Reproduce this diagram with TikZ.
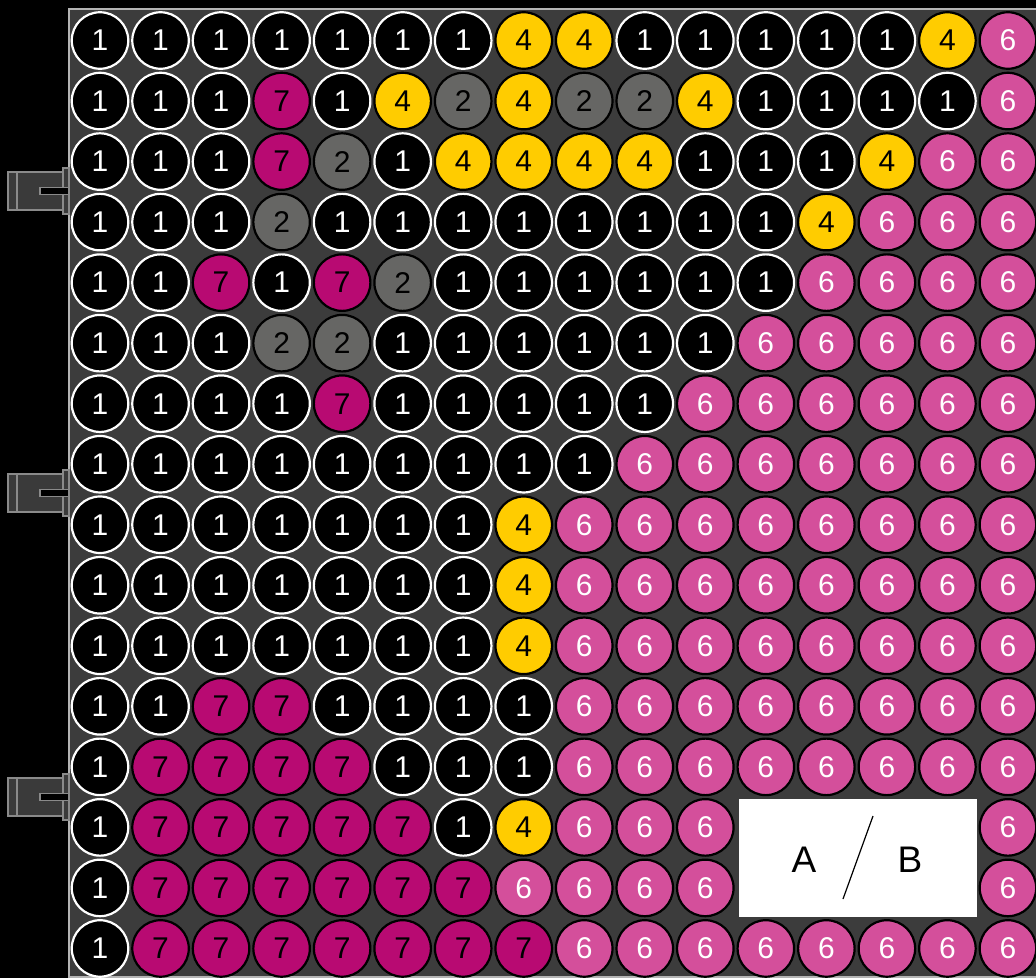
\documentclass[tikz,border=0pt]{standalone}
\usepackage{fontspec}
\setmainfont{Liberation Sans}
\definecolor{boardbg}{HTML}{3C3C3C}
\definecolor{boardedge}{HTML}{B4B4B4}
\definecolor{cyellow}{HTML}{FFCC00}
\definecolor{cpink}{HTML}{D44F9B}
\definecolor{cmag}{HTML}{B80A72}
\definecolor{cgray}{HTML}{666664}
\definecolor{plugfill}{HTML}{3A3A3A}
\definecolor{plugedge}{HTML}{8A8A8A}
\tikzset{
  cell/.style={circle, minimum size=56.5pt, inner sep=0pt, line width=2.2pt,
    font=\fontsize{30}{36}\selectfont},
  v1/.style={fill=black, draw=white, text=white},
  v2/.style={fill=cgray, draw=black, text=black},
  v4/.style={fill=cyellow, draw=black, text=black},
  v6/.style={fill=cpink, draw=black, text=white},
  v7/.style={fill=cmag, draw=black, text=black},
  plugpart/.style={fill=plugfill, draw=plugedge, line width=1.2pt},
  labelAB/.style={font=\fontsize{37}{44}\selectfont, text=black}
}
\begin{document}
\begin{tikzpicture}[x=1pt,y=-1pt]
\useasboundingbox (0,0) rectangle (1036,978);
\fill[black] (0,0) rectangle (1036,978);
\clip (0,0) rectangle (1036,978);
% board
\draw[fill=boardbg, draw=boardedge, line width=2pt] (69,9) rectangle (1050,977);
% connectors on the left edge
\foreach \yc in {191,493,797} {
  \draw[plugpart] (17,\yc-19) rectangle (63,\yc+19);
  \draw[plugpart] (8,\yc-19) rectangle (17,\yc+19);
  \draw[plugpart] (63,\yc-23) rectangle (69,\yc+23);
  \draw[fill=black, draw=plugedge, line width=1.2pt] (40,\yc-3.5) rectangle (69,\yc+3.5);
}
% cells
\foreach \row [count=\r] in {
  {1,1,1,1,1,1,1,4,4,1,1,1,1,1,4,6},
  {1,1,1,7,1,4,2,4,2,2,4,1,1,1,1,6},
  {1,1,1,7,2,1,4,4,4,4,1,1,1,4,6,6},
  {1,1,1,2,1,1,1,1,1,1,1,1,4,6,6,6},
  {1,1,7,1,7,2,1,1,1,1,1,1,6,6,6,6},
  {1,1,1,2,2,1,1,1,1,1,1,6,6,6,6,6},
  {1,1,1,1,7,1,1,1,1,1,6,6,6,6,6,6},
  {1,1,1,1,1,1,1,1,1,6,6,6,6,6,6,6},
  {1,1,1,1,1,1,1,4,6,6,6,6,6,6,6,6},
  {1,1,1,1,1,1,1,4,6,6,6,6,6,6,6,6},
  {1,1,1,1,1,1,1,4,6,6,6,6,6,6,6,6},
  {1,1,7,7,1,1,1,1,6,6,6,6,6,6,6,6},
  {1,7,7,7,7,1,1,1,6,6,6,6,6,6,6,6},
  {1,7,7,7,7,7,1,4,6,6,6,0,0,0,0,6},
  {1,7,7,7,7,7,7,6,6,6,6,0,0,0,0,6},
  {1,7,7,7,7,7,7,7,6,6,6,6,6,6,6,6}} {
  \foreach \v [count=\c] in \row {
    \ifnum\v>0
      \node[cell, v\v] (c\r-\c) at ({100+(\c-1)*60.53},{40.5+(\r-1)*60.53}) {\v};
    \fi
  }
}
% A / B box
\node[fill=white, draw=none, minimum width=238pt, minimum height=118pt, inner sep=0pt,
  anchor=north west] (abbox) at (739,799) {};
\node[labelAB] (labA) at (804,860) {A};
\node[labelAB] (labB) at (910,860) {B};
\coordinate (slashtop) at (873,816);
\coordinate (slashbot) at (843,899);
\draw[line width=1.2pt, black] (slashtop) -- (slashbot);
\end{tikzpicture}
\end{document}
